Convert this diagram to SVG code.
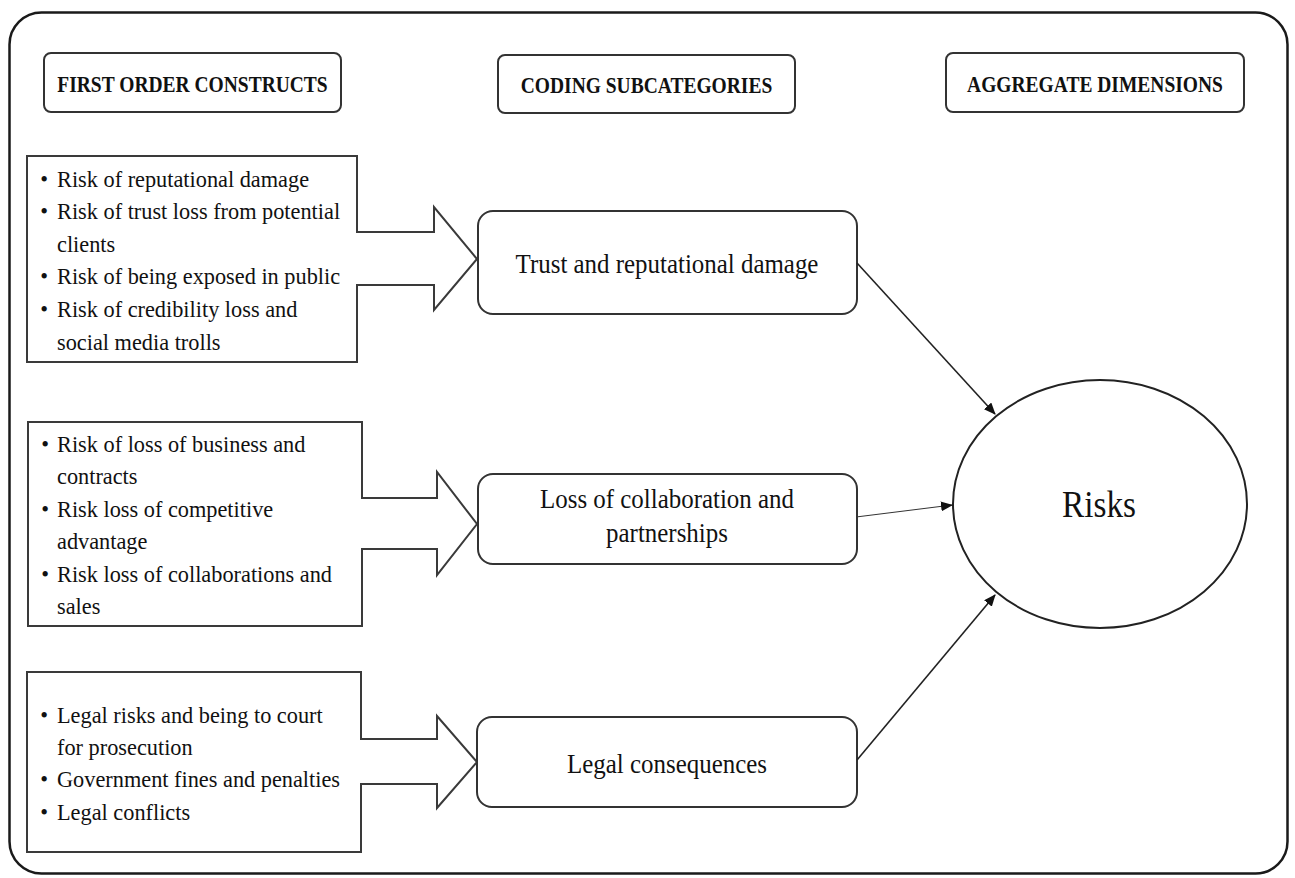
<svg xmlns="http://www.w3.org/2000/svg" width="1295" height="878" viewBox="0 0 1295 878">
  <style>
    .frame { fill: #ffffff; stroke: #1a1a1a; stroke-width: 2.5; }
    .hdr { fill: #ffffff; stroke: #333333; stroke-width: 2; }
    .hdr-t { font-family: "Liberation Serif", "Times New Roman", serif; font-weight: bold; font-size: 23.5px; fill: #111111; text-anchor: middle; }
    .src { fill: #ffffff; stroke: #3a3a3a; stroke-width: 2; stroke-linejoin: miter; }
    .src-t { font-family: "Liberation Serif", "Times New Roman", serif; font-size: 24px; fill: #111111; }
    .cat { fill: #ffffff; stroke: #333333; stroke-width: 2; }
    .cat-t { font-family: "Liberation Serif", "Times New Roman", serif; font-size: 28px; fill: #111111; text-anchor: middle; }
    .dim { fill: #ffffff; stroke: #222222; stroke-width: 2; }
    .dim-t { font-family: "Liberation Serif", "Times New Roman", serif; font-size: 37px; fill: #111111; text-anchor: middle; }
    .link { stroke: #222222; stroke-width: 1.6; fill: none; }
    .link-thin { stroke: #333333; stroke-width: 1; fill: none; }
  </style>
  <defs>
    <marker id="head" markerUnits="userSpaceOnUse" markerWidth="12" markerHeight="10" refX="11" refY="5" orient="auto">
      <path d="M0,0 L12,5 L0,10 Z" fill="#111111"/>
    </marker>
  </defs>

  <!-- outer frame -->
  <rect class="frame" x="9.5" y="12.5" width="1278" height="861" rx="32" ry="32"/>

  <!-- column headers -->
  <g id="hdr-first-order">
    <rect class="hdr" x="44" y="53" width="297" height="59" rx="7"/>
    <text class="hdr-t" transform="translate(192.5 92) scale(0.83 1)" x="0" y="0">FIRST ORDER CONSTRUCTS</text>
  </g>
  <g id="hdr-coding">
    <rect class="hdr" x="498" y="55" width="297" height="58" rx="7"/>
    <text class="hdr-t" transform="translate(646.5 93) scale(0.83 1)" x="0" y="0">CODING SUBCATEGORIES</text>
  </g>
  <g id="hdr-aggregate">
    <rect class="hdr" x="946" y="53" width="298" height="59" rx="7"/>
    <text class="hdr-t" transform="translate(1095 92) scale(0.83 1)" x="0" y="0">AGGREGATE DIMENSIONS</text>
  </g>

  <!-- first order constructs: box with block arrow -->
  <g id="src-trust">
    <path class="src" d="M27,156 H357 V232 H434 V207 L477,259 L434,310 V285 H357 V362 H27 Z"/>
    <g class="src-t" transform="translate(57 0) scale(0.93 1)">
      <text x="-18" y="187">•</text><text x="0" y="187">Risk of reputational damage</text>
      <text x="-18" y="219">•</text><text x="0" y="219">Risk of trust loss from potential</text>
      <text x="0" y="252">clients</text>
      <text x="-18" y="284">•</text><text x="0" y="284">Risk of being exposed in public</text>
      <text x="-18" y="317">•</text><text x="0" y="317">Risk of credibility loss and</text>
      <text x="0" y="350">social media trolls</text>
    </g>
  </g>
  <g id="src-collab">
    <path class="src" d="M28,422 H362 V498 H437 V472 L477,524 L437,575 V549 H362 V626 H28 Z"/>
    <g class="src-t" transform="translate(57 0) scale(0.93 1)">
      <text x="-17" y="452">•</text><text x="0" y="452">Risk of loss of business and</text>
      <text x="0" y="484">contracts</text>
      <text x="-17" y="517">•</text><text x="0" y="517">Risk loss of competitive</text>
      <text x="0" y="549">advantage</text>
      <text x="-17" y="582">•</text><text x="0" y="582">Risk loss of collaborations and</text>
      <text x="0" y="614">sales</text>
    </g>
  </g>
  <g id="src-legal">
    <path class="src" d="M27,672 H361 V739 H437 V716 L477,762 L437,808 V784 H361 V852 H27 Z"/>
    <g class="src-t" transform="translate(57 0) scale(0.93 1)">
      <text x="-18" y="723">•</text><text x="0" y="723">Legal risks and being to court</text>
      <text x="0" y="755">for prosecution</text>
      <text x="-18" y="787">•</text><text x="0" y="787">Government fines and penalties</text>
      <text x="-18" y="820">•</text><text x="0" y="820">Legal conflicts</text>
    </g>
  </g>

  <!-- coding subcategories -->
  <g id="cat-trust">
    <rect class="cat" x="478" y="211" width="379" height="103" rx="15"/>
    <text class="cat-t" transform="translate(667 273) scale(0.89 1)" x="0" y="0">Trust and reputational damage</text>
  </g>
  <g id="cat-collab">
    <rect class="cat" x="478" y="474" width="379" height="90" rx="15"/>
    <text class="cat-t" transform="translate(667 0) scale(0.89 1)" x="0" y="508">Loss of collaboration and</text>
    <text class="cat-t" transform="translate(667 0) scale(0.89 1)" x="0" y="542">partnerships</text>
  </g>
  <g id="cat-legal">
    <rect class="cat" x="477" y="717" width="380" height="90" rx="15"/>
    <text class="cat-t" transform="translate(667 773) scale(0.89 1)" x="0" y="0">Legal consequences</text>
  </g>

  <!-- aggregate dimension -->
  <g id="dim-risks">
    <ellipse class="dim" cx="1100" cy="504" rx="147" ry="124"/>
    <text class="dim-t" transform="translate(1099 517) scale(0.9 1)" x="0" y="0">Risks</text>
  </g>

  <!-- connectors -->
  <g id="connectors">
    <line class="link" x1="857" y1="263" x2="995" y2="414" marker-end="url(#head)"/>
    <line class="link-thin" x1="856" y1="517" x2="952" y2="505" marker-end="url(#head)"/>
    <line class="link" x1="857" y1="760" x2="995" y2="595" marker-end="url(#head)"/>
  </g>
</svg>
